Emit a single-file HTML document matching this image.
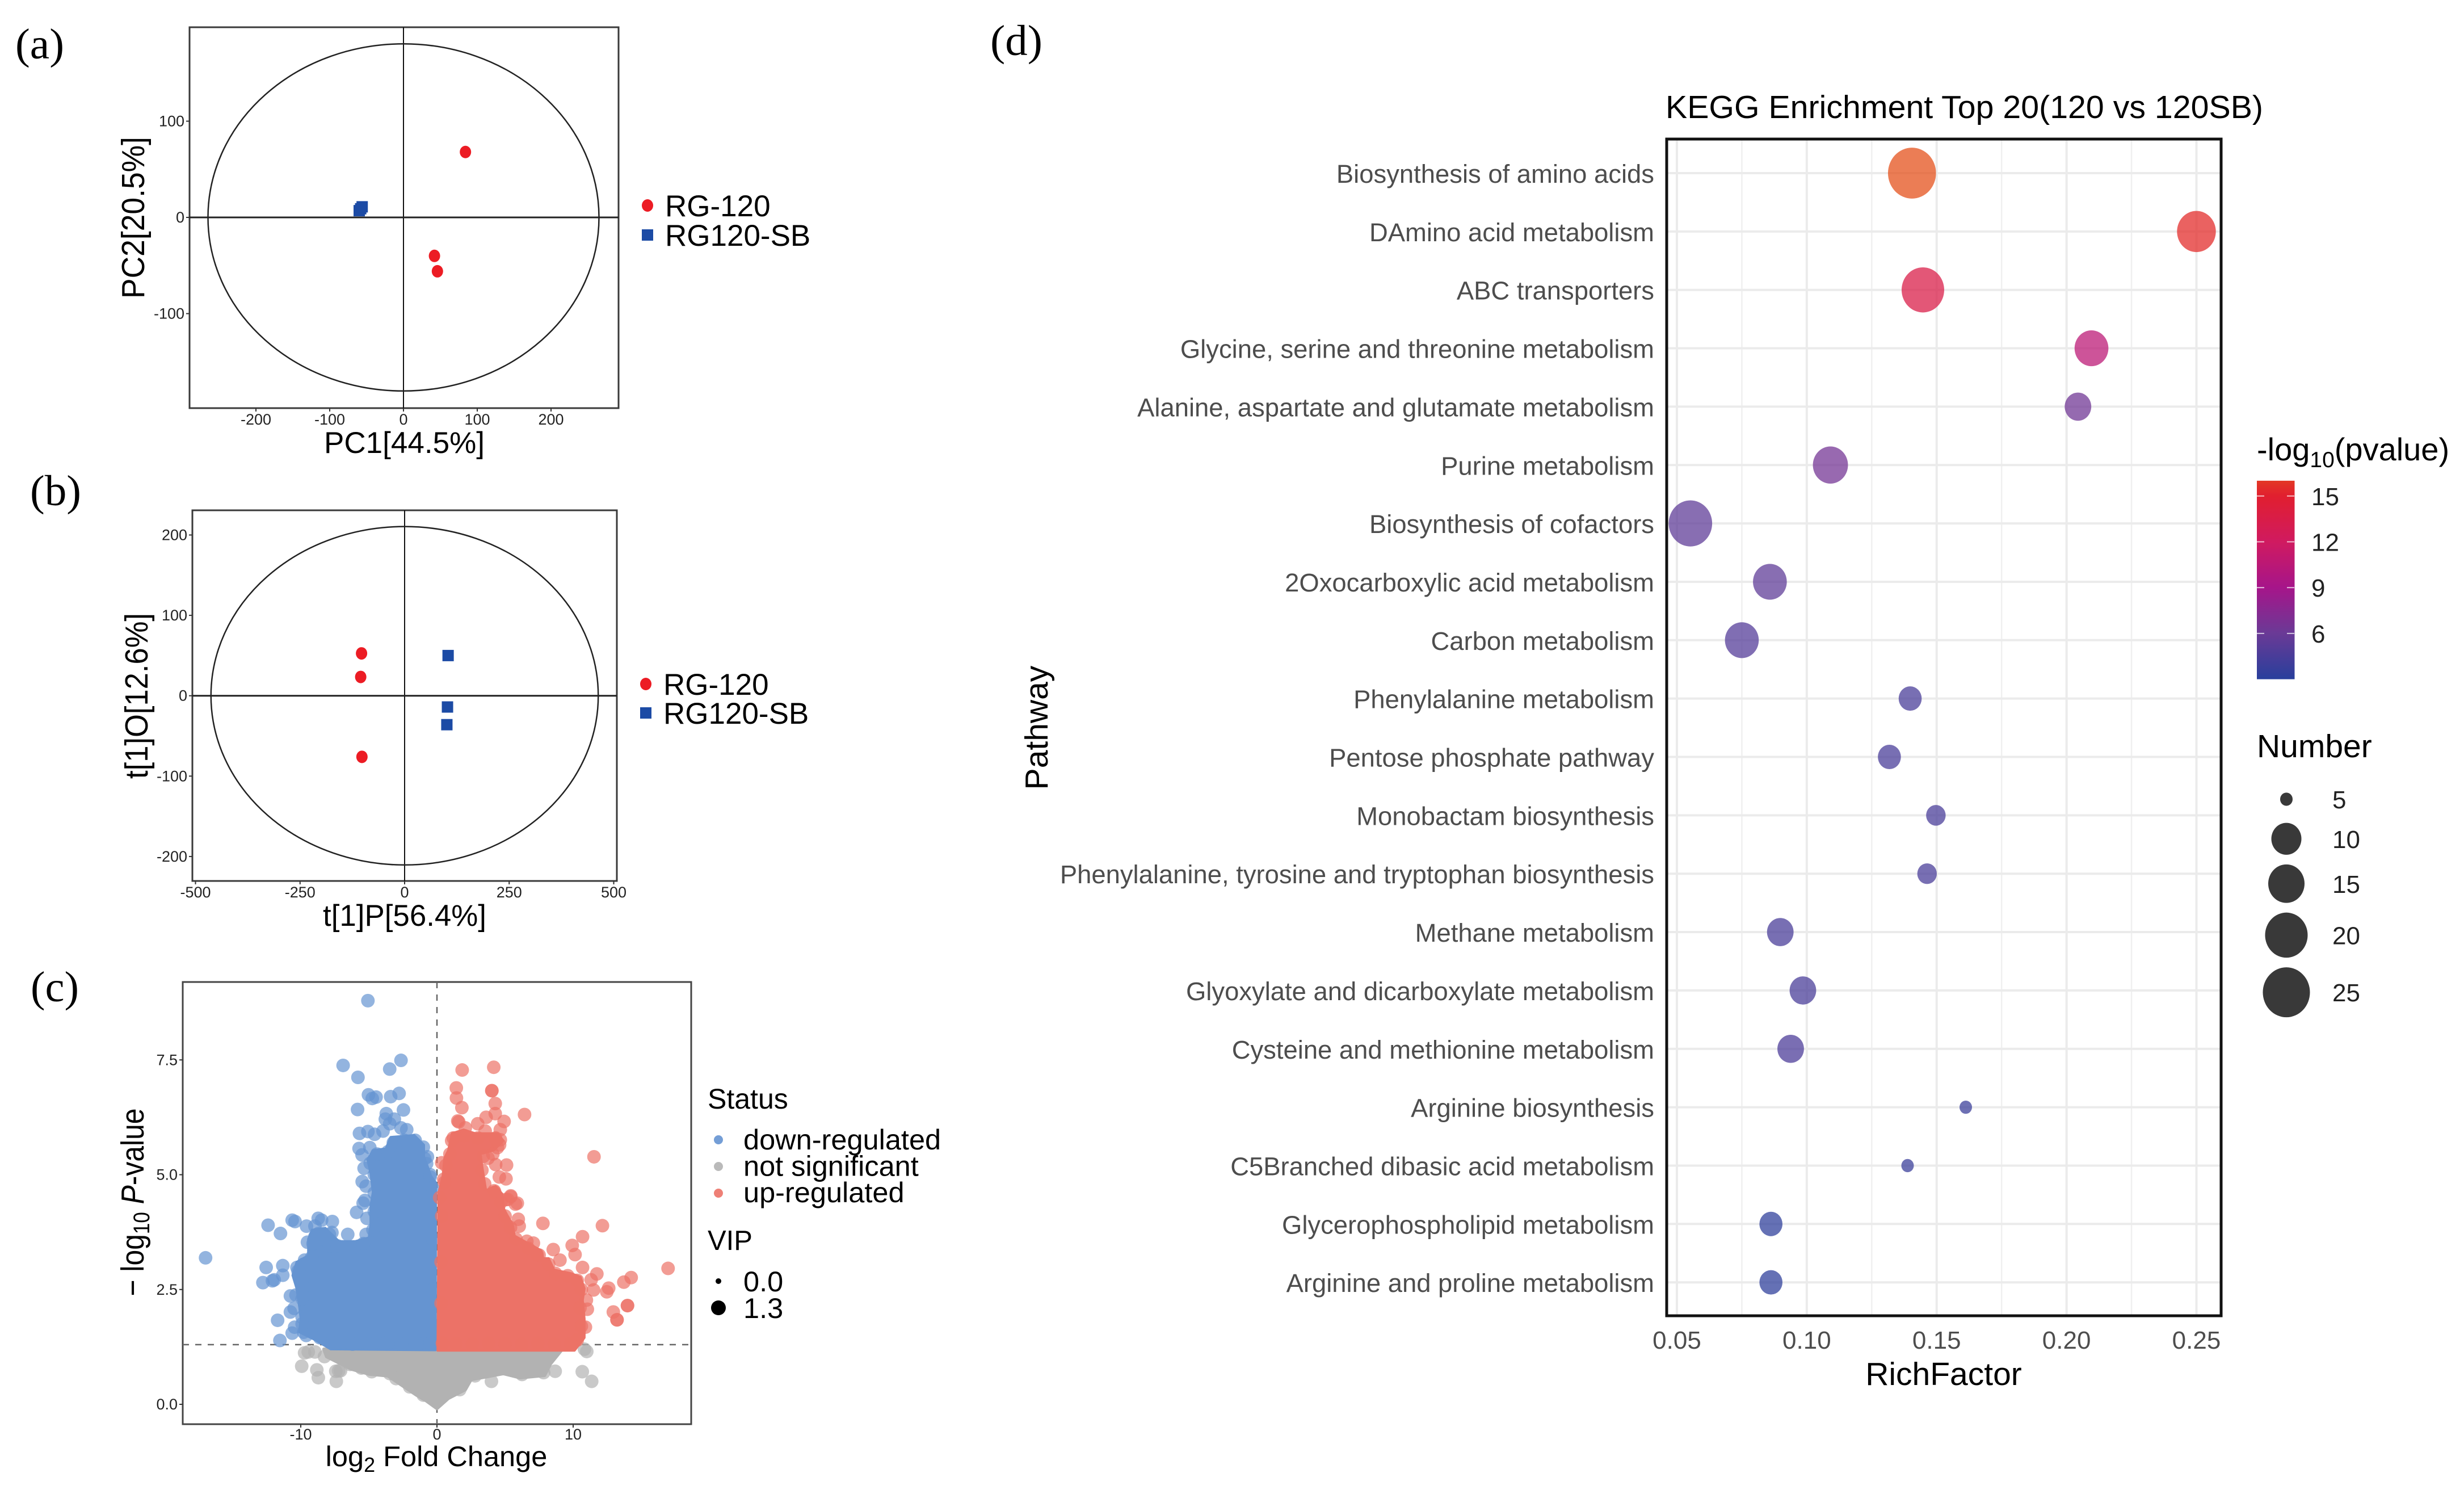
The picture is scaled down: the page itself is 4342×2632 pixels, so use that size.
<!DOCTYPE html>
<html lang="en">
<head>
<meta charset="utf-8">
<title>Metabolomics multi-panel figure</title>
<style>
html,body{margin:0;padding:0;background:#fff;}
svg{display:block;font-family:"Liberation Sans",Arial,sans-serif;}
.serif{font-family:"Liberation Serif",serif;}
</style>
</head>
<body>
<svg id="fig" xmlns="http://www.w3.org/2000/svg" width="4342" height="2632" viewBox="0 0 4342 2632">
<rect x="0" y="0" width="4342" height="2632" fill="#fff"/>
<text class="serif" x="27" y="103" font-size="76" textLength="86" lengthAdjust="spacingAndGlyphs">(a)</text>
<text class="serif" x="53" y="890" font-size="76" textLength="90" lengthAdjust="spacingAndGlyphs">(b)</text>
<text class="serif" x="54" y="1764" font-size="76" textLength="85" lengthAdjust="spacingAndGlyphs">(c)</text>
<text class="serif" x="1745" y="97" font-size="76" textLength="92" lengthAdjust="spacingAndGlyphs">(d)</text>

<g id="panelA"></g>
<text x="712.5" y="798" font-size="53" text-anchor="middle" textLength="283" lengthAdjust="spacingAndGlyphs">PC1[44.5%]</text>
<text transform="translate(254,383.5) rotate(-90)" x="0" y="0" font-size="57" text-anchor="middle" textLength="285" lengthAdjust="spacingAndGlyphs">PC2[20.5%]</text>

<g id="panelB"></g>
<text x="713" y="1631" font-size="53" text-anchor="middle" textLength="288" lengthAdjust="spacingAndGlyphs">t[1]P[56.4%]</text>
<text transform="translate(260,1226) rotate(-90)" x="0" y="0" font-size="57" text-anchor="middle" textLength="292" lengthAdjust="spacingAndGlyphs">t[1]O[12.6%]</text>

<g id="panelC"></g>
<text x="769" y="2583" font-size="50.5" text-anchor="middle">log<tspan font-size="36" dy="10">2</tspan><tspan dy="-10"> Fold Change</tspan></text>
<text transform="translate(253,2118) rotate(-90)" x="0" y="0" font-size="57" text-anchor="middle" textLength="331" lengthAdjust="spacingAndGlyphs">− log<tspan font-size="40" dy="10">10</tspan><tspan dy="-10"> </tspan><tspan font-style="italic">P</tspan>-value</text>
<text x="1247" y="1953" font-size="50">Status</text>
<text x="1247" y="2202" font-size="49">VIP</text>

<g id="panelD"></g>
<text x="2935" y="208" font-size="57" textLength="1053" lengthAdjust="spacingAndGlyphs">KEGG Enrichment Top 20(120 vs 120SB)</text>
<text x="3425" y="2440" font-size="57" text-anchor="middle">RichFactor</text>
<text transform="translate(1846,1282) rotate(-90)" x="0" y="0" font-size="57" text-anchor="middle">Pathway</text>
<text x="3977" y="811" font-size="56">-log<tspan font-size="39" dy="12">10</tspan><tspan dy="-12">(pvalue)</tspan></text>
<text x="3977" y="1334" font-size="57">Number</text>
</svg>

<script>
// ---------- Panel (a) PCA data ----------
const pcaRedPc1 = [84, 42, 46];
const pcaRedPc2 = [68, -40, -56];
const pcaBluePc1 = [-60, -58, -56];
const pcaBluePc2 = [7, 9, 11];
const pcaXTicks = [-200, -100, 0, 100, 200];
const pcaYTicks = [-100, 0, 100];
const pcaEllipse = [265, 180.4];

// ---------- Panel (b) OPLS-DA data ----------
const oplsRedP = [-103, -105, -102];
const oplsRedO = [52.7, 23.4, -76];
const oplsBlueP = [104, 102.5, 101];
const oplsBlueO = [50, -14, -36];
const oplsXTicks = [-500, -250, 0, 250, 500];
const oplsYTicks = [-200, -100, 0, 100, 200];
const oplsEllipse = [463, 210.5];

const groupNames = ['RG-120', 'RG120-SB'];

// ---------- Panel (c) volcano data: [log2FC, -log10 P] ----------
const volcanoXTicks = [-10, 0, 10];
const volcanoYTicks = [0, 2.5, 5, 7.5];
const pThreshold = 1.3;
const statusNames = ['down-regulated', 'not significant', 'up-regulated'];
const vipNames = ['0.0', '1.3'];
// outline of the saturated, fully overplotted cloud of each status
const downMass = [[-0.1,1.18],[-7.8,1.2],[-9,1.41],[-10.1,1.57],[-10,1.86],[-10.1,2.11],[-10.3,2.52],[-10.6,2.81],[-10.3,3.1],[-9.45,3.24],[-9.45,3.6],[-9.17,3.8],[-8.2,3.84],[-7.2,3.55],[-6,3.55],[-5,3.63],[-4.87,3.92],[-4.87,4.33],[-4.7,4.62],[-4.87,5.03],[-5.1,5.33],[-4.7,5.53],[-3.75,5.57],[-3.4,5.82],[-1.67,5.86],[-0.96,5.65],[-0.96,5.4],[-0.42,4.96],[-0.08,4.83]];
const upMass = [[0.05,1.17],[10.1,1.17],[10.83,1.45],[10.83,1.86],[10.7,2.27],[10.83,2.52],[10.54,2.77],[9.87,2.85],[8.6,2.93],[8.2,3.18],[7.8,3.18],[7.65,3.35],[6.67,3.51],[5.7,3.67],[5.55,3.92],[5.14,4.13],[4.93,4.25],[4.8,4.58],[4.3,4.75],[3.6,4.66],[3.33,5.16],[3.2,5.45],[4.17,5.53],[4.87,5.74],[4.46,5.9],[2.8,5.9],[1.96,5.98],[1.1,5.9],[0.83,5.53],[0.55,5.36],[0.42,4.96],[0.13,4.62]];
const nsMass = [[-8.3,1.2],[9.2,1.2],[8.33,0.88],[7.9,0.63],[6.1,0.58],[4.87,0.67],[3.6,0.6],[2.5,0.54],[2.08,0.32],[0.83,0.13],[0,-0.09],[-0.8,0.08],[-1.54,0.21],[-2.7,0.44],[-3.6,0.62],[-5,0.66],[-6.3,0.77],[-8.1,1.04]];
const downPoints = [[-5.07,8.79],[-6.89,7.38],[-5.8,7.12],[-3.47,7.3],[-2.64,7.49],[-5.03,6.74],[-4.75,6.66],[-4.47,6.69],[-3.4,6.7],[-2.78,6.77],[-5.83,6.42],[-2.46,6.41],[-3.72,6.33],[-3.79,6.21],[-3.47,6.11],[-3.13,6.21],[-2.64,6.02],[-2.22,5.98],[-5.69,5.9],[-5.07,5.94],[-4.58,5.88],[-3.96,5.95],[-5.72,5.57],[-4.93,5.59],[-5.5,5.43],[-5.35,5.14],[-5.49,4.85],[-5.2,4.75],[-0.7,5.39],[-0.76,5.24],[-0.5,4.95],[-5.29,4.44],
[-12.4,3.9],[-11.49,3.72],[-10.63,4.01],[-10.42,3.98],[-9.58,3.88],[-8.72,4.05],[-8.47,4.01],[-8.96,3.88],[-7.68,3.98],[-7.71,3.74],[-6.55,3.7],[-5.9,4.18],[-5.14,4.05],[-5.42,4.38],[-5.2,3.7],[-9.51,3.53],[-8.96,3.65],[-12.54,2.98],[-11.32,3.02],[-12.78,2.65],[-12.08,2.69],[-11.95,2.71],[-11.32,2.81],[-10.76,2.36],[-10.35,2.38],[-10.76,2.01],[-10.49,2.09],[-11.7,1.83],[-10.45,1.68],[-10.63,1.55],[-9.79,1.57],[-11.53,1.39],[-9.72,3.14],[-10.28,2.98],[-16.99,3.19],
[-8.6,1.45],[-7.4,1.33],[-6.2,1.31],[-5,1.32],[-3.8,1.33],[-2.6,1.31],[-1.4,1.32],[-0.5,1.33],[-9.9,2.5],[-10.1,2.8],[-9.9,1.9],[-8.6,3.6],[-7.9,3.45],[-7,3.42],[-6.1,3.42],[-0.3,4.7],[-0.3,3.6],[-0.3,2.5],
[-9.9,1.75],[-9.6,1.5],[-9.9,2.3],[-9.9,2.7],[-10.2,2.9],[-9.8,3.05],[-9.2,3.2],[-9.1,3.5],[-8.7,3.72],[-7.9,3.7],[-7.3,3.45],[-6.3,3.42],[-5.4,3.5],[-4.7,3.8],[-4.6,4.2],[-4.6,4.6],[-4.6,5],[-4.9,5.25],[-4.4,5.45],[-3.6,5.5],[-3.2,5.7],[-2.4,5.75],[-1.6,5.75],[-1,5.6],[-0.9,5.35],[-0.5,5]];
const upPoints = [[1.85,7.28],[4.17,7.34],[1.42,6.89],[4.03,6.83],[4.03,6.83],[1.43,6.67],[4.28,6.55],[1.83,6.46],[4.28,6.33],[6.43,6.31],[11.53,5.39],[3.61,6.25],[4.93,6.16],[1.53,6.17],[1.6,6.15],[2.08,6.02],[2.99,6.11],[4.65,5.98],[3.54,5.95],[4.65,5.76],[4.44,5.59],[3.75,5.36],[4.31,5.22],[5.11,5.21],[4.58,4.95],[5.07,4.91],[1.08,5.74],[0.35,5.26],[0.55,4.83],[4.24,4.62],[5.42,4.52],[5.07,4.46],[5.9,4.38],
[5.42,4.54],[5.2,4.46],[5.76,4.36],[5.97,4.03],[6.04,3.88],[7.78,3.94],[12.15,3.89],[10.69,3.65],[9.93,3.46],[8.54,3.37],[10.14,3.26],[16.97,2.96],[14.26,2.76],[13.72,2.66],[11.74,2.84],[11.32,2.71],[11.5,2.49],[12.61,2.53],[12.47,2.45],[10.97,2.27],[11.04,2.07],[13.99,2.15],[13.99,2.15],[12.95,2.01],[13.22,1.84],[13.22,1.84],[10.9,1.68],[6.6,3.55],[7.08,3.51],[7.36,3.26],[9.03,3.14],[10.69,2.98],
[9.8,1.32],[8.6,1.31],[7.4,1.33],[6.2,1.31],[5,1.32],[3.8,1.33],[2.6,1.31],[1.4,1.32],[0.4,1.33],[0.3,2.2],[0.3,3.1],[0.35,4.1],
[10.3,1.4],[10.6,1.7],[10.5,2.1],[10.6,2.5],[10.3,2.7],[9.6,2.8],[8.7,2.85],[8.2,3.05],[7.5,3.25],[6.7,3.4],[5.8,3.6],[5.4,3.85],[5,4.1],[4.7,4.4],[4.2,4.65],[3.5,4.8],[3.3,5.1],[3.4,5.4],[4.1,5.45],[4.6,5.65],[4.3,5.8],[3,5.8],[2,5.85],[1.2,5.8],[0.95,5.45],[0.65,5.2],[0.5,4.9],[0.2,4.5]];
const nsPoints = [[-9.72,1.12],[-9.45,1.14],[-8.96,1.14],[-8.26,1.04],[-9.93,0.83],[-8.82,0.75],[-8.71,0.58],[-7.43,0.72],[-7.22,0.73],[-7.39,0.5],[-7.78,1.12],[-7.08,0.73],[-6.39,0.87],[-5.55,0.79],[-4.79,0.71],[-4.46,0.91],[-3.47,0.67],[10.83,1.2],[11,1.15],[10.67,0.71],[11.36,0.5],[4,0.5],[8.68,0.72],[6.25,0.65],[1.67,0.32],[7.83,0.69],[-1,0.2],[-2,0.38],[-3,0.56],[2.8,0.62],[3.3,0.72],[5.1,0.78],[7.2,0.75]];

// ---------- Panel (d) KEGG data ----------
const pathways = ['Biosynthesis of amino acids','DAmino acid metabolism','ABC transporters','Glycine, serine and threonine metabolism','Alanine, aspartate and glutamate metabolism','Purine metabolism','Biosynthesis of cofactors','2Oxocarboxylic acid metabolism','Carbon metabolism','Phenylalanine metabolism','Pentose phosphate pathway','Monobactam biosynthesis','Phenylalanine, tyrosine and tryptophan biosynthesis','Methane metabolism','Glyoxylate and dicarboxylate metabolism','Cysteine and methionine metabolism','Arginine biosynthesis','C5Branched dibasic acid metabolism','Glycerophospholipid metabolism','Arginine and proline metabolism'];
const richFactor = [0.1405,0.25,0.1447,0.2096,0.2044,0.1091,0.0552,0.0858,0.075,0.1398,0.1318,0.1497,0.1463,0.0898,0.0985,0.0938,0.1612,0.1388,0.0862,0.0862];
const geneNumber = [26,17,20,13,9,14,21,13,13,8,8,7,7,9,9,9,5,5,8,8];
const logP = [17,15.5,13.5,10.5,6.3,6.5,5.5,5.5,5,4.5,4.5,4.5,4.5,4.5,4.5,4.6,3.8,3.8,3.3,3.3];
const richTicks = [0.05,0.10,0.15,0.20,0.25];
const richMinorTicks = [0.075,0.125,0.175,0.225];
const colorbarTicks = [6,9,12,15];
const colorbarRange = [3,16];
const numberKeys = [5,10,15,20,25];
const numberRadii = [11,26.5,32,37.5,41.5];
const scoreStops = [3,6,9,12,15,17];
const scoreColors = ['#283f9c','#6a3a96','#a6158a','#d01a60','#e11f2f','#e4501a'];

// ---------- helpers ----------
const NS = 'http://www.w3.org/2000/svg';
function mk(parent, tag, attrs, text) {
  const el = document.createElementNS(NS, tag);
  for (const k in attrs) el.setAttribute(k, attrs[k]);
  if (text !== undefined) el.textContent = text;
  parent.appendChild(el);
  return el;
}

function drawScorePlot(g, xs, ys, box, xTicks, yTicks, ellipseR, redX, redY, blueX, blueY, legend) {
  let el = mk(g, 'rect', {x: box[0], y: box[1], width: box[2]-box[0], height: box[3]-box[1], fill: '#fff', stroke: '#3a3a3a', 'stroke-width': 3});
  
  
  el = mk(g, 'line', {x1: xs(0), x2: xs(0), y1: box[1], y2: box[3], stroke: '#111', 'stroke-width': 2});
  
  
  el = mk(g, 'line', {x1: box[0], x2: box[2], y1: ys(0), y2: ys(0), stroke: '#222', 'stroke-width': 3});
  
  
  el = mk(g, 'ellipse', {cx: xs(0), cy: ys(0), rx: Math.abs(xs(ellipseR[0])-xs(0)), ry: Math.abs(ys(ellipseR[1])-ys(0)), fill: 'none', stroke: '#222', 'stroke-width': 2.5});
  
  
  xTicks.forEach(function (t) {
    let m = mk(g, 'line', {x1: xs(t), x2: xs(t), y1: box[3], y2: box[3]+6, stroke: '#333', 'stroke-width': 2});
    
    
    m = mk(g, 'text', {x: xs(t), y: box[3]+29, 'font-size': 27, 'text-anchor': 'middle', fill: '#222'}, String(t));
    
    
  });
  yTicks.forEach(function (t) {
    let m = mk(g, 'line', {x1: box[0]-6, x2: box[0], y1: ys(t), y2: ys(t), stroke: '#333', 'stroke-width': 2});
    
    
    m = mk(g, 'text', {x: box[0]-9, y: ys(t)+9, 'font-size': 27, 'text-anchor': 'end', fill: '#222'}, String(t));
    
    
  });
  redX.forEach(function (v, i) {
    const m = mk(g, 'ellipse', {cx: xs(v), cy: ys(redY[i]), rx: 10, ry: 11, fill: '#ec1c24'});
    
    
  });
  blueX.forEach(function (v, i) {
    const m = mk(g, 'rect', {x: xs(v)-10, y: ys(blueY[i])-10, width: 20, height: 20, fill: '#1c4ba5'});
    
    
  });
  el = mk(g, 'ellipse', {cx: legend[0], cy: legend[1], rx: 10, ry: 11, fill: '#ec1c24'});
  
  
  el = mk(g, 'rect', {x: legend[0]-10, y: legend[2]-10, width: 20, height: 20, fill: '#1c4ba5'});
  
  
  el = mk(g, 'text', {x: legend[0]+31, y: legend[1]+19, 'font-size': 53}, groupNames[0]);
  
  
  el = mk(g, 'text', {x: legend[0]+31, y: legend[2]+19, 'font-size': 53}, groupNames[1]);
  
  
}

drawScorePlot(document.getElementById('panelA'),
  function (v) { return 711 + 1.3 * v; }, function (v) { return 383 - 1.695 * v; },
  [334, 48, 1090, 719], pcaXTicks, pcaYTicks, pcaEllipse, pcaRedPc1, pcaRedPc2, pcaBluePc1, pcaBluePc2, [1141, 362, 414]);
drawScorePlot(document.getElementById('panelB'),
  function (v) { return 713 + 0.737 * v; }, function (v) { return 1225.7 - 1.416 * v; },
  [339, 899, 1087, 1552], oplsXTicks, oplsYTicks, oplsEllipse, oplsRedP, oplsRedO, oplsBlueP, oplsBlueO, [1138, 1205, 1256]);

// ---------- volcano ----------
(function () {
  const g = document.getElementById('panelC');
  const xV = function (v) { return 770 + 24 * v; };
  const yV = function (v) { return 2474 - 80.9 * v; };
  const box = [322, 1730, 1218, 2509];
  const colors = ['#6594d1', '#b2b2b2', '#ec7267'];
  let el = mk(g, 'rect', {x: box[0], y: box[1], width: box[2]-box[0], height: box[3]-box[1], fill: '#fff', stroke: '#444', 'stroke-width': 3});
  
  
  el = mk(g, 'line', {x1: xV(0), x2: xV(0), y1: box[1], y2: box[3], stroke: '#666', 'stroke-width': 2.5, 'stroke-dasharray': '11 11'});
  
  
  el = mk(g, 'line', {x1: box[0], x2: box[2], y1: yV(pThreshold), y2: yV(pThreshold), stroke: '#666', 'stroke-width': 2.5, 'stroke-dasharray': '11 11'});
  
  
  volcanoXTicks.forEach(function (t) {
    let m = mk(g, 'line', {x1: xV(t), x2: xV(t), y1: box[3], y2: box[3]+6, stroke: '#333', 'stroke-width': 2});
    
    
    m = mk(g, 'text', {x: xV(t), y: 2536, 'font-size': 27, 'text-anchor': 'middle', fill: '#222'}, String(t));
    
    
  });
  volcanoYTicks.forEach(function (t) {
    let m = mk(g, 'line', {x1: box[0]-6, x2: box[0], y1: yV(t), y2: yV(t), stroke: '#333', 'stroke-width': 2});
    
    
    m = mk(g, 'text', {x: box[0]-9, y: yV(t)+9, 'font-size': 27, 'text-anchor': 'end', fill: '#222'}, t.toFixed(1));
    
    
  });
  function polyPoints(arr) {
    return arr.map(function (p) { return xV(p[0]).toFixed(1) + ',' + yV(p[1]).toFixed(1); }).join(' ');
  }
  // not significant
  el = mk(g, 'polygon', {points: polyPoints(nsMass), fill: colors[1], stroke: colors[1], 'stroke-width': 6, 'stroke-linejoin': 'round'});
  
  
  nsPoints.forEach(function (p) {
    const m = mk(g, 'circle', {cx: xV(p[0]), cy: yV(p[1]), r: 12, fill: colors[1], 'fill-opacity': 0.7});
    
    
  });
  // down
  el = mk(g, 'polygon', {points: polyPoints(downMass), fill: colors[0], stroke: colors[0], 'stroke-width': 4, 'stroke-linejoin': 'round'});
  
  
  downPoints.forEach(function (p) {
    const m = mk(g, 'circle', {cx: xV(p[0]), cy: yV(p[1]), r: 12, fill: colors[0], 'fill-opacity': 0.7});
    
    
  });
  // up
  el = mk(g, 'polygon', {points: polyPoints(upMass), fill: colors[2], stroke: colors[2], 'stroke-width': 4, 'stroke-linejoin': 'round'});
  
  
  upPoints.forEach(function (p) {
    const m = mk(g, 'circle', {cx: xV(p[0]), cy: yV(p[1]), r: 12, fill: colors[2], 'fill-opacity': 0.7});
    
    
  });
  // status legend
  statusNames.forEach(function (name, i) {
    let m = mk(g, 'circle', {cx: 1266, cy: 2008 + 47 * i, r: 8, fill: colors[i], 'fill-opacity': 0.9});
    
    
    m = mk(g, 'text', {x: 1310, y: 2025 + 46.5 * i, 'font-size': 50.5}, name);
    
    
  });
  vipNames.forEach(function (name, i) {
    let m = mk(g, 'circle', {cx: 1266, cy: 2257 + 47 * i, r: i === 0 ? 5 : 13, fill: '#000'});
    
    
    m = mk(g, 'text', {x: 1310, y: 2275 + 47 * i, 'font-size': 50.5}, name);
    
    
  });
})();

// ---------- KEGG bubbles ----------
(function () {
  const g = document.getElementById('panelD');
  const xR = function (v) { return 2955 + 4577.5 * (v - 0.05); };
  const yR = function (i) { return 305 + 102.85 * i; };
  const rN = function (n) {
    if (n <= numberKeys[0]) return numberRadii[0];
    for (let i = 1; i < numberKeys.length; i++) {
      if (n <= numberKeys[i]) {
        return numberRadii[i-1] + (numberRadii[i]-numberRadii[i-1]) * (n-numberKeys[i-1]) / (numberKeys[i]-numberKeys[i-1]);
      }
    }
    return numberRadii[4] + (n - 25) * 0.8;
  };
  const hex = function (c) { return [1,3,5].map(function (k) { return parseInt(c.substr(k,2),16); }); };
  const colorAt = function (v) {
    for (let i = 1; i < scoreStops.length; i++) {
      if (v <= scoreStops[i]) {
        const t = Math.max(0, (v-scoreStops[i-1]) / (scoreStops[i]-scoreStops[i-1]));
        const a = hex(scoreColors[i-1]), b = hex(scoreColors[i]);
        return 'rgb(' + [0,1,2].map(function (k) { return Math.round(a[k]+(b[k]-a[k])*t); }).join(',') + ')';
      }
    }
    return scoreColors[scoreColors.length-1];
  };
  const box = [2937, 245, 3914, 2318];
  let el;
  richMinorTicks.forEach(function (t) {
    const m = mk(g, 'line', {x1: xR(t), x2: xR(t), y1: box[1], y2: box[3], stroke: '#f0f0f0', 'stroke-width': 2.5});
    
    
  });
  richTicks.forEach(function (t) {
    let m = mk(g, 'line', {x1: xR(t), x2: xR(t), y1: box[1], y2: box[3], stroke: '#ebebeb', 'stroke-width': 4});
    
    
    m = mk(g, 'text', {x: xR(t), y: 2376, 'font-size': 44, 'text-anchor': 'middle', fill: '#4d4d4d'}, t.toFixed(2));
    
    
  });
  pathways.forEach(function (name, i) {
    let m = mk(g, 'line', {x1: box[0], x2: box[2], y1: yR(i), y2: yR(i), stroke: '#ebebeb', 'stroke-width': 4});
    
    
    m = mk(g, 'text', {x: 2915, y: yR(i)+17, 'font-size': 45.4, 'text-anchor': 'end', fill: '#4d4d4d'}, name);
    
    
  });
  pathways.forEach(function (name, i) {
    const r = rN(geneNumber[i]);
    const m = mk(g, 'ellipse', {cx: xR(richFactor[i]), cy: yR(i), rx: r, ry: r * 1.06, fill: colorAt(logP[i]), 'fill-opacity': 0.74});
    
    
  });
  el = mk(g, 'rect', {x: box[0], y: box[1], width: box[2]-box[0], height: box[3]-box[1], fill: 'none', stroke: '#111', 'stroke-width': 5});
  
  

  // colorbar
  const yC = function (v) { return 1196.6 - (v - colorbarRange[0]) * 26.9; };
  const defs = mk(g, 'defs', {});
  const grad = mk(defs, 'linearGradient', {id: 'cbGrad', x1: 0, y1: 1, x2: 0, y2: 0});
  scoreStops.forEach(function (s) {
    if (s <= colorbarRange[1]) mk(grad, 'stop', {offset: (s-colorbarRange[0])/(colorbarRange[1]-colorbarRange[0]), 'stop-color': colorAt(s)});
  });
  mk(grad, 'stop', {offset: 1, 'stop-color': colorAt(colorbarRange[1])});
  el = mk(g, 'rect', {x: 3977, y: yC(colorbarRange[1]), width: 66.5, height: yC(colorbarRange[0])-yC(colorbarRange[1]), fill: 'url(#cbGrad)'});
  
  
  colorbarTicks.forEach(function (t) {
    let m = mk(g, 'line', {x1: 3977, x2: 3990, y1: yC(t), y2: yC(t), stroke: '#fff', 'stroke-opacity': 0.7, 'stroke-width': 2});
    
    
    m = mk(g, 'line', {x1: 4030, x2: 4043, y1: yC(t), y2: yC(t), stroke: '#fff', 'stroke-opacity': 0.7, 'stroke-width': 2});
    
    
    m = mk(g, 'text', {x: 4073, y: yC(t)+16, 'font-size': 44, fill: '#222'}, String(t));
    
    
  });

  // size legend, keys stacked top-down with a small gap
  let cy = 1408;
  numberKeys.forEach(function (n, i) {
    const r = rN(n);
    const ry = r * 1.06;
    if (i > 0) cy += rN(numberKeys[i-1]) * 1.06 + ry + (i === 1 ? 30 : 17);
    let m = mk(g, 'ellipse', {cx: 4029, cy: cy, rx: r, ry: ry, fill: '#333', 'fill-opacity': 0.97});
    
    
    m = mk(g, 'text', {x: 4110, y: cy+16, 'font-size': 44, fill: '#222'}, String(n));
    
    
  });
})();
</script>
</body>
</html>
